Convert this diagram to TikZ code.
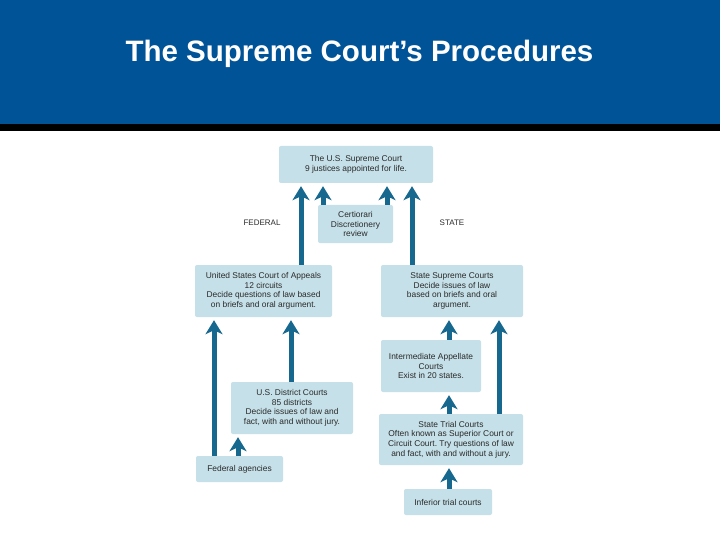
\documentclass[tikz,border=0pt]{standalone}
\usepackage{fontspec}
\setmainfont{Liberation Sans}
\usetikzlibrary{arrows.meta}
\frenchspacing
\definecolor{band}{HTML}{005396}
\definecolor{boxfill}{HTML}{C5E0E8}
\definecolor{arrcol}{HTML}{16688F}
\definecolor{txt}{HTML}{2A2A2A}
\tikzset{
  court/.style={fill=boxfill, rounded corners=2pt, inner sep=1pt, align=center,
    font=\fontsize{8.4}{9.6}\selectfont, text=txt},
  arr/.style={draw=arrcol, line width=5pt, shorten >=3pt,
    -{Stealth[length=14pt,width=17pt,inset=4pt]}},
  side/.style={font=\fontsize{8}{9}\selectfont, text=txt}
}
\begin{document}
\begin{tikzpicture}[x=1pt,y=-1pt]
\useasboundingbox (0,0) rectangle (720,540);
\fill[white] (0,0) rectangle (720,540);
\fill[band] (0,0) rectangle (720,124);
\fill[black] (0,124) rectangle (720,131);
\node[text=white, font=\bfseries\fontsize{29.5}{34}\selectfont, anchor=base, inner sep=0pt] (title) at (359.5,62) {The Supreme Court’s Procedures};

\node[court, minimum width=154pt, minimum height=37pt] (supreme) at (356,164.5) {The U.S. Supreme Court\\9 justices appointed for life.};
\node[court, minimum width=75pt, minimum height=38pt] (cert) at (355.5,224) {Certiorari\\Discretionery\\review};
\node[court, minimum width=137pt, minimum height=52pt] (appeals) at (263.5,291) {United States Court of Appeals\\12 circuits\\Decide questions of law based\\on briefs and oral argument.};
\node[court, minimum width=142pt, minimum height=52pt] (statesup) at (452,291) {State Supreme Courts\\Decide issues of law\\based on briefs and oral\\argument.};
\node[court, minimum width=122pt, minimum height=52pt] (district) at (292,408) {U.S. District Courts\\85 districts\\Decide issues of law and\\fact, with and without jury.};
\node[court, minimum width=87pt, minimum height=26pt] (agencies) at (239.5,469) {Federal agencies};
\node[court, minimum width=100pt, minimum height=52pt] (inter) at (431,366) {Intermediate Appellate\\Courts\\Exist in 20 states.};
\node[court, minimum width=144pt, minimum height=51pt] (trial) at (451,439.5) {State Trial Courts\\Often known as Superior Court or\\Circuit Court. Try questions of law\\and fact, with and without a jury.};
\node[court, minimum width=88pt, minimum height=26pt] (inferior) at (448,502) {Inferior trial courts};

\node[side] (federal) at (262,223) {FEDERAL};
\node[side] (state) at (452,223) {STATE};

\coordinate (xa) at (301,0);
\coordinate (xb) at (323,0);
\coordinate (xc) at (387,0);
\coordinate (xd) at (412,0);
\coordinate (xe) at (214,0);
\coordinate (xf) at (291,0);
\coordinate (xg) at (238,0);
\coordinate (xh) at (449,0);
\coordinate (xi) at (499,0);

\draw[arr] (appeals.north -| xa) -- (supreme.south -| xa);
\draw[arr] (cert.north -| xb) -- (supreme.south -| xb);
\draw[arr] (cert.north -| xc) -- (supreme.south -| xc);
\draw[arr] (statesup.north -| xd) -- (supreme.south -| xd);
\draw[arr] (agencies.north -| xe) -- (appeals.south -| xe);
\draw[arr] (district.north -| xf) -- (appeals.south -| xf);
\draw[arr] (agencies.north -| xg) -- (district.south -| xg);
\draw[arr] (inter.north -| xh) -- (statesup.south -| xh);
\draw[arr] (trial.north -| xh) -- (inter.south -| xh);
\draw[arr] (inferior.north -| xh) -- (trial.south -| xh);
\draw[arr] (trial.north -| xi) -- (statesup.south -| xi);
\end{tikzpicture}
\end{document}
